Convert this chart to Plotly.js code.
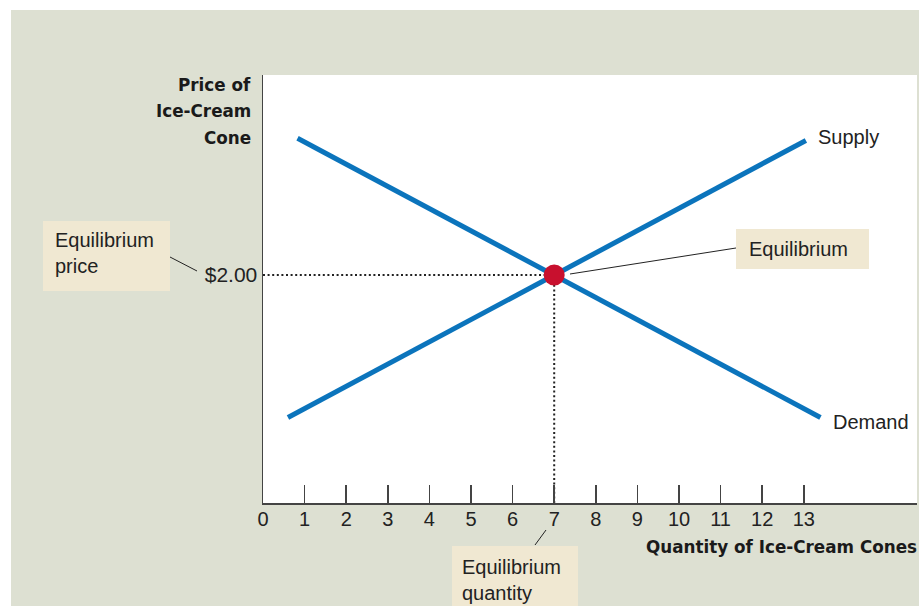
<!DOCTYPE html>
<html>
<head>
<meta charset="utf-8">
<script src="https://cdn.plot.ly/plotly-3.0.1.min.js"></script>
<style>html,body{margin:0;padding:0;background:#fff;}#chart{width:919px;height:606px;}</style>
</head>
<body>
<div id="chart"></div>
<script>
// ---- data ----
var supplyQ = [0.6, 13.05];
var supplyP = [0.75, 3.18];
var demandQ = [0.83, 13.4];
var demandP = [3.2, 0.75];
var eqQ = 7;
var eqP = 2.0;
var xTickVals = [0, 1, 2, 3, 4, 5, 6, 7, 8, 9, 10, 11, 12, 13];
var xTickText = ['0', '1', '2', '3', '4', '5', '6', '7', '8', '9', '10', '11', '12', '13'];
var yTickVals = [2.0];
var yTickText = ['$2.00'];

// ---- layout helpers (pixel -> paper) ----
var W = 919, H = 606;
var L = 263, R = 2, T = 75, B = 103;
var PW = W - L - R, PH = H - T - B;
function px(x) { return (x - L) / PW; }
function py(y) { return (H - B - y) / PH; }

var GRAY = '#dde0d2';
var BOX = '#f0e8d2';
var BLUE = '#0b74bc';
var RED = '#c8102e';
var INK = '#222222';
var REG = '"Liberation Sans", Arial, sans-serif';
var BOLD = '"DejaVu Sans", sans-serif';

var traces = [
  {x: [0, eqQ], y: [eqP, eqP], mode: 'lines', line: {color: INK, width: 2, dash: '2px,2.6px'}, hoverinfo: 'skip'},
  {x: [eqQ, eqQ], y: [0, eqP], mode: 'lines', line: {color: INK, width: 2, dash: '2px,2.6px'}, hoverinfo: 'skip'},
  {x: supplyQ, y: supplyP, mode: 'lines', name: 'Supply', line: {color: BLUE, width: 5}},
  {x: demandQ, y: demandP, mode: 'lines', name: 'Demand', line: {color: BLUE, width: 5}},
  {x: [eqQ], y: [eqP], mode: 'markers', name: 'Equilibrium', marker: {color: RED, size: 21, line: {width: 0}}}
];

function rect(x0, y0, x1, y1, color, layer) {
  return {type: 'rect', xref: 'paper', yref: 'paper', x0: px(x0), x1: px(x1), y0: py(y1), y1: py(y0),
          fillcolor: color, line: {width: 0}, layer: layer || 'above'};
}
function seg(x0, y0, x1, y1) {
  return {type: 'line', xref: 'paper', yref: 'paper', x0: px(x0), x1: px(x1), y0: py(y0), y1: py(y1),
          line: {color: INK, width: 1}, layer: 'above'};
}
function note(text, x, y, xanchor, font) {
  return {text: text, xref: 'paper', yref: 'paper', x: px(x), y: py(y), xanchor: xanchor, yanchor: 'middle',
          align: xanchor === 'right' ? 'right' : 'left', showarrow: false, font: font, borderpad: 0};
}

var fReg = {family: REG, size: 20, color: INK};
var fBold = {family: BOLD, size: 16.8, color: '#1a1a1a', weight: 700};

var layout = {
  width: W, height: H,
  margin: {l: L, r: R, t: T, b: B, pad: 0},
  paper_bgcolor: GRAY,
  plot_bgcolor: '#ffffff',
  showlegend: false,
  hovermode: false,
  xaxis: {
    range: [0, PW / 41.6], showgrid: false, zeroline: false,
    showline: true, linecolor: '#444', linewidth: 1.5,
    tickmode: 'array', tickvals: xTickVals, ticktext: xTickText,
    ticks: 'inside', ticklen: 18, tickwidth: 1.5, tickcolor: '#444',
    ticklabelstandoff: -3,
    tickfont: {family: REG, size: 20, color: INK}
  },
  yaxis: {
    range: [0, PH / 114], showgrid: false, zeroline: false,
    showline: true, linecolor: '#444', linewidth: 1.5,
    tickmode: 'array', tickvals: yTickVals, ticktext: yTickText,
    ticks: '', tickfont: {family: REG, size: 21, color: INK}
  },
  shapes: [
    rect(0, 0, W, 10, '#ffffff', 'below'),
    rect(0, 0, 11, H, '#ffffff', 'below'),
    rect(43, 221, 170, 291, BOX),
    rect(736, 229, 869, 269, BOX),
    rect(452, 546, 578, 606, BOX),
    seg(170, 257, 197, 271),
    seg(570, 274, 736, 248),
    seg(535, 545, 546, 530)
  ],
  annotations: [
    note('Price of', 252, 85, 'right', fBold),
    note('Ice-Cream', 252, 111, 'right', fBold),
    note('Cone', 252, 138, 'right', fBold),
    note('Quantity of Ice-Cream Cones', 918, 547, 'right', fBold),
    note('Equilibrium<br>price', 54, 253, 'left', fReg),
    note('Equilibrium', 748, 249, 'left', fReg),
    note('Equilibrium<br>quantity', 461, 580, 'left', fReg),
    {text: 'Supply', x: supplyQ[1], y: supplyP[1], xref: 'x', yref: 'y', xanchor: 'left', yanchor: 'middle',
     xshift: 10, yshift: 3, showarrow: false, font: fReg},
    {text: 'Demand', x: demandQ[1], y: demandP[1], xref: 'x', yref: 'y', xanchor: 'left', yanchor: 'middle',
     xshift: 11, yshift: -4, showarrow: false, font: fReg}
  ]
};

Plotly.newPlot('chart', traces, layout, {staticPlot: true, displayModeBar: false});
</script>
</body>
</html>
